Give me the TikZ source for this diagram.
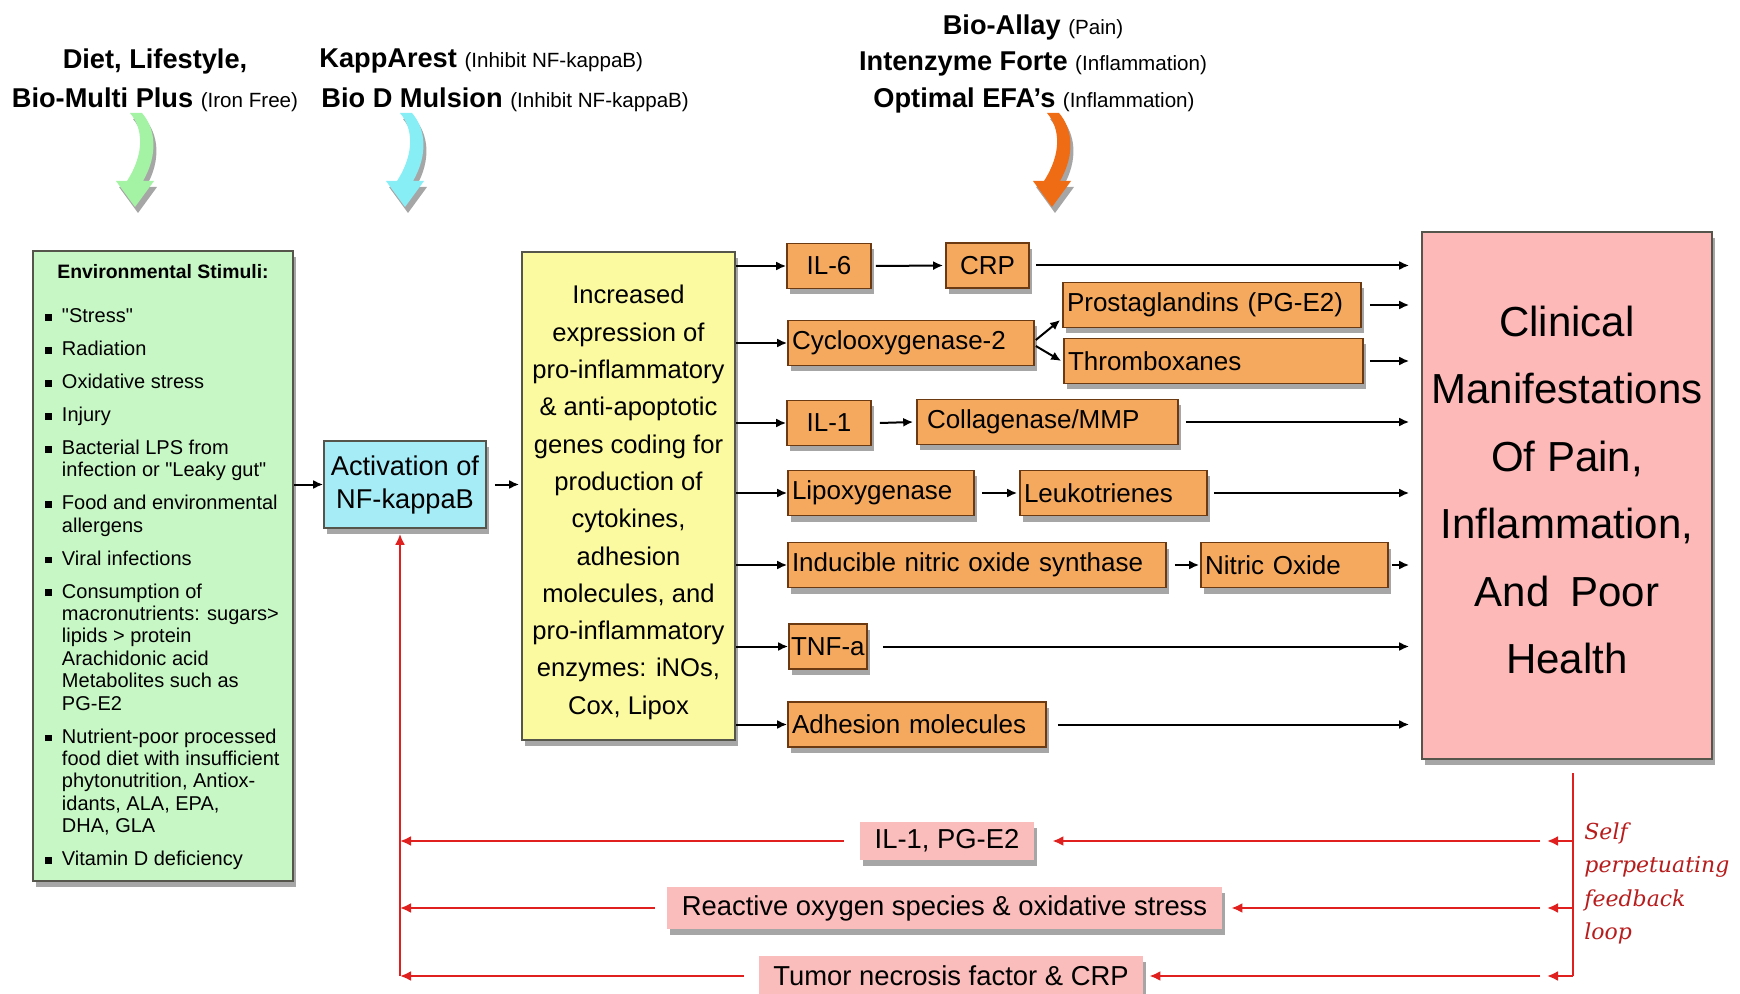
\documentclass[tikz,border=0pt]{standalone}
\usepackage{fontspec}
\setmainfont{Liberation Sans}
\newfontfamily\fbfont{DejaVu Serif}
\usetikzlibrary{arrows.meta,shadows,calc}
\definecolor{gfill}{HTML}{C8F7C6}
\definecolor{cfill}{HTML}{A6ECF6}
\definecolor{yfill}{HTML}{FCFAA0}
\definecolor{ofill}{HTML}{F5A95E}
\definecolor{pfill}{HTML}{FDB8B8}
\definecolor{fbfill}{HTML}{FBBCBC}
\definecolor{redl}{HTML}{E0201E}
\definecolor{redt}{HTML}{B81C1C}
\definecolor{bord}{HTML}{55554C}
\definecolor{obord}{HTML}{6B3A12}
\definecolor{garr}{HTML}{A4F2A4}
\definecolor{carr}{HTML}{88EEF6}
\definecolor{oarr}{HTML}{F06C14}
\newcommand\bul{\rule[1pt]{3.3pt}{3.3pt}}
\newcommand\dq{\XeTeXglyph\XeTeXcharglyph"22\relax}
\newcommand\sm[1]{{\fontsize{10.3}{12}\selectfont\mdseries #1}}
\newcommand\wavyarrow[2]{\fill[#2,shad,shift={#1}] (-5,0) .. controls (8,15) and (10,40) .. (-8,68) -- (-19,68) -- (0,94) -- (19,68) -- (8,68) .. controls (24,40) and (20,15) .. (7,0) -- cycle;}
\begin{document}
\begin{tikzpicture}[x=0.5pt,y=-0.5pt,
  shad/.style={drop shadow={shadow xshift=1.5pt,shadow yshift=-3pt,opacity=0.35,fill=black}},
  box/.style={draw=bord,line width=0.8pt,inner sep=0pt,shad},
  obox/.style={draw=obord,line width=0.8pt,fill=ofill,shad,minimum height=22.5pt,inner ysep=0pt,inner xsep=2pt,font=\fontsize{13}{15}\selectfont},
  fbbox/.style={fill=fbfill,shad,inner sep=0pt,font=\fontsize{13.7}{16}\selectfont},
  arr/.style={line width=1pt,-{Latex[length=5pt,width=4.5pt]}},
  rarr/.style={draw=redl,line width=1.3pt,-{Latex[length=5.5pt,width=5pt]}},
  rline/.style={draw=redl,line width=1.3pt},
  ttl/.style={anchor=base,inner sep=0pt,font=\fontsize{13.6}{16}\selectfont\bfseries},
]
\useasboundingbox (0,0) rectangle (1740,994);
\fill[white] (0,0) rectangle (1740,994);

% titles
\node[ttl] (t1a) at (155,69) {Diet, Lifestyle,};
\node[ttl] (t1b) at (155,108) {Bio-Multi Plus \sm{(Iron Free)}};
\node[ttl,anchor=base west] (t2a) at (319,68) {KappArest \sm{(Inhibit NF-kappaB)}};
\node[ttl,anchor=base west] (t2b) at (321,108) {Bio D Mulsion \sm{(Inhibit NF-kappaB)}};
\node[ttl] (t3a) at (1033,35) {Bio-Allay \sm{(Pain)}};
\node[ttl] (t3b) at (1033,71) {Intenzyme Forte \sm{(Inflammation)}};
\node[ttl] (t3c) at (1034,108) {Optimal EFA’s \sm{(Inflammation)}};

% wavy arrows
\wavyarrow{(135,113)}{garr}
\wavyarrow{(405,113)}{carr}
\wavyarrow{(1052,113)}{oarr}

% environmental stimuli
\node[box,fill=gfill,minimum width=130pt,minimum height=315pt] (env) at (163,566) {};
\node[anchor=base,inner sep=0pt,font=\fontsize{9.7}{11}\selectfont\bfseries] (envt) at (163,279) {Environmental Stimuli:};
\node[anchor=base west,inner sep=0pt,font=\fontsize{10}{11.22}\selectfont] (envl) at (45,323) {%
\begin{tabular}[t]{@{}l@{\hspace{5pt}}l@{}}
\bul & \dq Stress\dq\\[5.22pt]
\bul & Radiation\\[5.22pt]
\bul & Oxidative stress\\[5.22pt]
\bul & Injury\\[5.22pt]
\bul & Bacterial LPS from\\ & infection or \dq Leaky gut\dq\\[5.22pt]
\bul & Food and environmental\\ & allergens\\[5.22pt]
\bul & Viral infections\\[5.22pt]
\bul & Consumption of\\ & macronutrients: sugars>\\ & lipids > protein\\ & Arachidonic acid\\ & Metabolites such as\\ & PG-E2\\[5.22pt]
\bul & Nutrient-poor processed\\ & food diet with insufficient\\ & phytonutrition, Antiox-\\ & idants, ALA, EPA,\\ & DHA, GLA\\[5.22pt]
\bul & Vitamin D deficiency
\end{tabular}};

% NF-kappaB
\node[box,fill=cfill,minimum width=81pt,minimum height=43.5pt,align=center,font=\fontsize{13.6}{16.5}\selectfont] (nfkb) at (405,484.5) {Activation of\\NF-kappaB};

% yellow
\node[box,fill=yfill,minimum width=106.5pt,minimum height=244pt] (yel) at (628.5,496) {};
\node[anchor=north,inner sep=0pt,align=center,font=\fontsize{12.8}{18.65}\selectfont] (yelt) at (628.5,285) {Increased\\expression of\\pro-inflammatory\\\& anti-apoptotic\\genes coding for\\production of\\cytokines,\\adhesion\\molecules, and\\pro-inflammatory\\enzymes: iNOs,\\Cox, Lipox};

% clinical
\node[box,fill=pfill,minimum width=145pt,minimum height=263.5pt] (clin) at (1567,495.5) {};
\node[inner sep=0pt,align=center,font=\fontsize{21}{33.7}\selectfont] (clint) at (1567,490) {Clinical\\Manifestations\\Of Pain,\\Inflammation,\\And\enspace Poor\\Health};

% orange boxes
\node[obox,text width=38pt,align=center] (il6) at (829,266) {IL-6};
\node[obox,text width=37.5pt,align=center] (crp) at (987.5,265.5) {CRP};
\node[obox,text width=145pt,align=left] (prost) at (1212,305) {Prostaglandins (PG-E2)};
\node[obox,text width=119pt,align=left] (cyclo) at (911,343) {Cyclooxygenase-2};
\node[obox,text width=145.5pt,align=left] (thromb) at (1213.5,361) {Thromboxanes};
\node[obox,text width=38pt,align=center] (il1) at (829,423) {IL-1};
\node[obox,text width=126.5pt,align=left] (coll) at (1047.5,422) {\hspace{3pt}Collagenase/MMP};
\node[obox,text width=89pt,align=left] (lipox) at (881,493) {Lipoxygenase};
\node[obox,text width=89.5pt,align=left] (leuko) at (1113.5,493) {Leukotrienes};
\node[obox,text width=185pt,align=left] (inos) at (977,565) {Inducible nitric oxide synthase};
\node[obox,text width=89.5pt,align=left] (no) at (1294.5,565) {Nitric Oxide};
\node[obox,text width=37pt,align=left,inner xsep=1pt] (tnf) at (828,646.5) {TNF-a};
\node[obox,text width=125pt,align=left] (adh) at (917,724.5) {Adhesion molecules};

% feedback boxes
\node[fbbox,minimum width=87pt,minimum height=19pt] (fb1) at (947,841) {IL-1, PG-E2};
\node[fbbox,minimum width=277.5pt,minimum height=21pt] (fb2) at (944.5,908) {Reactive oxygen species \& oxidative stress};
\node[fbbox,minimum width=192pt,minimum height=20pt] (fb3) at (951,976) {Tumor necrosis factor \& CRP};

% black arrows
\draw[arr] (env.east |- nfkb.west) -- (nfkb.west);
\draw[arr] ([xshift=4pt]nfkb.east) -- ([xshift=-1pt]yel.west |- nfkb.east);
\foreach \b in {il6,cyclo,il1,lipox,inos,tnf,adh}
  \draw[arr] (yel.east |- \b.west) -- (\b.west);
\draw[arr] ([xshift=2pt]il6.east) -- ([xshift=-1pt]crp.west);
\draw[arr] ([xshift=4pt]il1.east) -- ([xshift=-1.5pt]coll.west);
\draw[arr] ([xshift=3.5pt]lipox.east) -- ([xshift=-1pt]leuko.west);
\draw[arr] ([xshift=4pt]inos.east) -- ([xshift=-0.5pt]no.west);
\draw[arr] ([xshift=0.5pt,yshift=1.5pt]cyclo.east) -- ([xshift=-1pt,yshift=-7.5pt]prost.west);
\draw[arr] ([xshift=0.5pt,yshift=-1.5pt]cyclo.east) -- ([xshift=-1pt]thromb.west);
\foreach \b/\g in {crp/3pt,prost/4pt,thromb/3pt,coll/3.5pt,leuko/3pt,no/1.5pt,tnf/7.5pt,adh/5.5pt}
  \draw[arr] ([xshift=\g]\b.east) -- ($(clin.west |- \b.east)+(-12,0)$);

% feedback loop
\coordinate (rtop) at (1573,773);
\coordinate (lx) at (400,0);
\draw[rline] (rtop) -- (rtop |- fb3);
\foreach \b/\g in {fb1/9pt,fb2/4.5pt,fb3/3pt}{
  \draw[rarr] (rtop |- \b) -- ($(rtop |- \b)+(-26,0)$);
  \draw[rarr] ($(rtop |- \b)+(-33,0)$) -- ([xshift=\g]\b.east);
}
\foreach \b/\g in {fb1/8pt,fb2/6pt,fb3/7.5pt}
  \draw[rarr] ([xshift=-\g]\b.west) -- (lx |- \b);
\draw[rarr] (lx |- fb3) -- ($(lx |- nfkb.south)+(0,5)$);
\node[anchor=north west,inner sep=0pt,align=left,text=redt,font=\fbfont\itshape\fontsize{11}{16.75}\selectfont] (fbtext) at (1584,822) {Self\\perpetuating\\feedback\\loop};
\end{tikzpicture}
\end{document}
